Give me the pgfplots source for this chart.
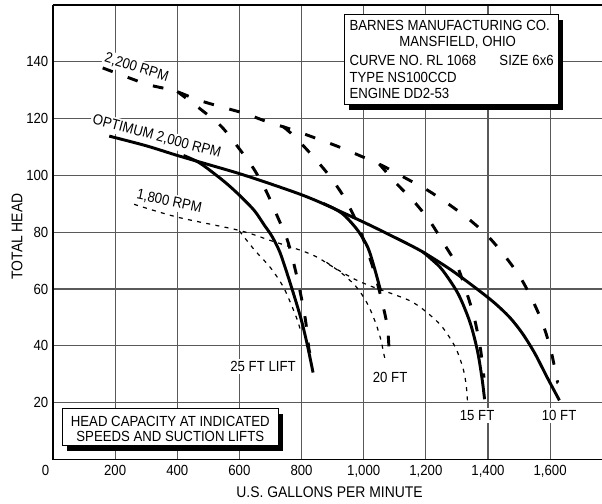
\documentclass[border=0pt]{standalone}
\usepackage{fontspec}
\setmainfont{Liberation Sans}[FakeStretch=0.9]
\usepackage{pgfplots}
\pgfplotsset{compat=1.18}
\newcommand{\fs}{\fontsize{11}{13}\selectfont}
\tikzset{
  thicksolid/.style={line width=2.2pt, black, line cap=butt},
  thickdash/.style={line width=2.2pt, black, dash pattern=on 8pt off 12pt},
  thindash/.style={line width=0.9pt, black, dash pattern=on 3pt off 4pt},
  lbl/.style={fill=white, inner sep=1.5pt, font=\fs},
  wbox/.style={draw, fill=white, line width=0.8pt, inner sep=0pt, anchor=north west},
  sbox/.style={fill=black, inner sep=0pt, anchor=north west, xshift=3.5pt, yshift=-4.5pt},
}
\begin{document}
\begin{tikzpicture}[font=\fs]
\path[use as bounding box] (-39.75pt,-32.625pt) rectangle (411.75pt,344.625pt);
\begin{axis}[name=ax, at={(0,0)}, anchor=south west,
  scale only axis, width=411.75pt, height=341pt,
  xmin=0, xmax=1767, ymin=0, ymax=160,
  axis x line*=bottom, axis y line*=left,
  axis line style={-, line width=1.2pt},
  xtick={0,200,400,600,800,1000,1200,1400,1600},
  xticklabels={\llap{0\hspace{2.8pt}},200,400,600,800,{1,000},{1,200},{1,400},{1,600}},
  ytick={20,40,60,80,100,120,140},
  major tick length=0pt,
  grid=major, grid style={line width=0.8pt, black!65},
  tick label style={font=\fs},
  xticklabel style={yshift=-1pt},
  /pgf/number format/assume math mode=true,
  clip=false,
]
% labels
\node[lbl, rotate=-17] at (axis cs:269,137.9) {2,200 RPM};
\node[lbl, rotate=-15] at (axis cs:334,113.6) {OPTIMUM 2,000 RPM};
\node[lbl, rotate=-12] at (axis cs:374,90.7) {1,800 RPM};
\node[lbl] at (axis cs:676,32.7) {25 FT LIFT};
\node[lbl] at (axis cs:1085,28.7) {20 FT};
\node[lbl] at (axis cs:1365,15.5) {15 FT};
\node[lbl] at (axis cs:1629,15.5) {10 FT};

% 2,200 RPM main
\addplot[thickdash, smooth] coordinates {(160,137.8) (235,134.7) (310,131.8) (390,129.8) (465,126.6) (541,124.1) (616,121.8) (691,118.8) (766,116.2) (840,113.3) (916,110.2) (990,106.8) (1062,103.3) (1135,99) (1205,94.8) (1270,90.1) (1337,84.7) (1398,78.8) (1453,71.8) (1504,64.1) (1544,55.9) (1577,47.6) (1603,38.2) (1622,28.2) (1625,27)};
% 2,200 branches
\addplot[thickdash, smooth] coordinates {(400,129.5) (477,123.1) (541,117.3) (595,110) (646,102.3) (685,94.7) (722,85.6) (755,77) (778,67.6) (797,58.2) (813,48.8) (823,39.4) (827,37.5)};
\addplot[thickdash, smooth] coordinates {(740,117.2) (776,113.8) (835,106.9) (889,99.9) (937,92.3) (975,84.1) (1008,74.7) (1034,66) (1058,56) (1076,46.8) (1082,38) (1083,34.7)};
\addplot[thickdash, smooth] coordinates {(1050,104) (1103,97.4) (1160,91) (1212,84) (1258,76) (1300,68.3) (1330,59.2) (1356,49.8) (1375,39.5) (1385,30.8) (1387,28.8)};

% OPTIMUM 2,000 RPM main
\addplot[thicksolid, smooth] coordinates {(181,113.8) (300,110.4) (400,107) (500,103.8) (600,100.6) (700,97) (799,93.2) (870,90) (1000,83.5) (1077,79.4) (1152,75.3) (1200,72.4) (1280,66.8) (1355,60.8) (1420,55.2) (1470,50) (1510,44.5) (1550,37.5) (1590,29) (1630,20.8)};
% 2,000 branches
\addplot[thicksolid, smooth] coordinates {(420,107) (470,104.5) (519,100.6) (560,97) (600,93) (648,87.6) (680,82.5) (705,78.5) (730,73) (754,65.3) (781,55.9) (800,48.8) (818,40.6) (837,30.6)};
\addplot[thicksolid, smooth] coordinates {(870,90.1) (905,88.3) (938,85.9) (981,80.6) (1013,74.7) (1034,67.6) (1055,59.2)};
\addplot[thicksolid, smooth] coordinates {(1190,73.1) (1220,70.3) (1254,66.6) (1304,58.3) (1342,48.3) (1366,38.3) (1381,28.4) (1389,21.2)};

% 1,800 RPM main
\addplot[thindash, smooth] coordinates {(261,89.8) (400,85.3) (600,80.6) (702,77) (800,73.5) (850,71.2) (905,67.5) (970,63.5) (1023,61) (1087,58.5) (1150,55.8) (1195,52.5) (1250,47) (1295,39.5) (1320,32) (1330,26) (1334,20.5)};
% 1,800 branches
\addplot[thindash, smooth] coordinates {(600,80.4) (648,73.8) (700,67.5) (740,61) (765,55) (785,49.5) (798,45)};
\addplot[thindash, smooth] coordinates {(880,69.4) (930,65.5) (970,61.5) (997,57.6) (1018,53.5) (1040,47.6) (1056,41.8) (1066,36.5) (1071,35)};

% info boxes
\node[sbox, minimum width=160.5pt, minimum height=67.5pt] at (axis cs:937.6,156.8) {};
\node[wbox, minimum width=160.5pt, minimum height=67.5pt] at (axis cs:937.6,156.8) {};
\node[anchor=base west, inner sep=0] at (axis cs:953.7,150.9) {BARNES MANUFACTURING CO.};
\node[anchor=base, inner sep=0] at (axis cs:1302.6,145.3) {MANSFIELD, OHIO};
\node[anchor=base west, inner sep=0] at (axis cs:953.7,138.8) {CURVE NO. RL 1068};
\node[anchor=base east, inner sep=0] at (axis cs:1612.5,138.8) {SIZE 6x6};
\node[anchor=base west, inner sep=0] at (axis cs:953.7,132.6) {TYPE NS100CCD};
\node[anchor=base west, inner sep=0] at (axis cs:953.7,127.1) {ENGINE DD2-53};

\node[sbox, minimum width=162pt, minimum height=28pt] at (axis cs:29.9,18.2) {};
\node[wbox, minimum width=162pt, minimum height=28pt] at (axis cs:29.9,18.2) {};
\node[anchor=base, inner sep=0] at (axis cs:377.5,11.5) {HEAD CAPACITY AT INDICATED};
\node[anchor=base, inner sep=0] at (axis cs:377.5,6.3) {SPEEDS AND SUCTION LIFTS};
\end{axis}
\draw[line width=1.2pt] (ax.north west) -- (ax.north east);
\node[rotate=90, font=\fontsize{11.6}{14}\selectfont] at (-27pt,167.25pt) {TOTAL HEAD};
\node[font=\fontsize{11.6}{14}\selectfont] at (207.4pt,-24.4pt) {U.S. GALLONS PER MINUTE};
\end{tikzpicture}
\end{document}
